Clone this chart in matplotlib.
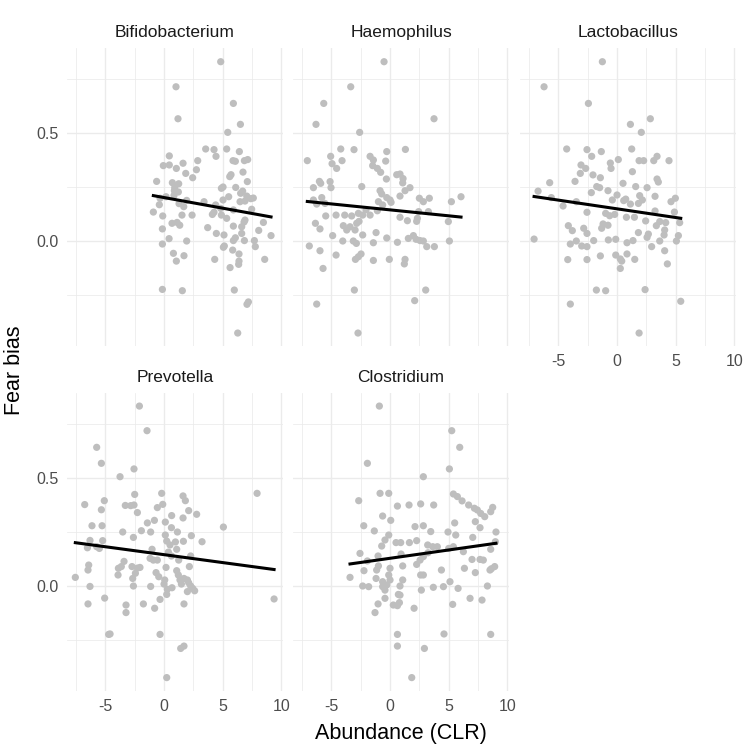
import numpy as np
import matplotlib.pyplot as plt
from matplotlib.ticker import MultipleLocator

plt.rcParams['font.family'] = ['Liberation Sans', 'DejaVu Sans']
plt.rcParams['axes.unicode_minus'] = False

genera = ["Bifidobacterium", "Haemophilus", "Lactobacillus", "Prevotella", "Clostridium"]

#### Bifidobacterium ####
bifido_x = [4.83, 1.02, 5.91, 1.19, 6.51, 5.43, 3.55, 4.26, 5.34, 6.42, 4.43, 0.45, 5.88, 6.08, 6.85, 7.13,
            -0.06, 0.45, 1.05, 1.62, 2.87, 2.76, 1.85, 2.44, 5.60, 5.71, 6.73, -0.63, 0.71, 1.25, 0.91, 0.88,
            1.22, 5.03, 6.11, 6.70, 7.10, 7.05, 7.39, 7.61, 6.90, 6.48, 5.51, 6.53, 4.89, -0.34, 0.17, 0.85,
            1.93, 1.28, 1.68, -0.91, -0.40, -0.11, 1.53, 2.39, 0.68, 1.11, 1.34, -0.14, 0.43, -0.14, 1.93,
            3.72, 4.46, 5.11, 4.12, 4.26, 4.83, 5.91, 7.47, 6.90, 6.62, 5.91, 6.82, 8.07, 9.12, 8.47, 6.08,
            5.91, 6.85, 7.70, 6.62, 7.78, 5.14, 5.06, 5.85, 6.39, 6.39, 6.36, 5.63, 4.32, 8.58, 0.80, 1.05,
            1.70, -0.14, 1.56, 5.99, 7.19, 7.07, 6.28, 4.89, 5.34, 4.40, 3.41, 5.03]
bifido_y = [0.830, 0.714, 0.637, 0.566, 0.540, 0.503, 0.426, 0.423, 0.426, 0.414, 0.392, 0.394, 0.372, 0.369,
            0.372, 0.377, 0.349, 0.352, 0.336, 0.360, 0.372, 0.330, 0.313, 0.293, 0.298, 0.307, 0.319, 0.276,
            0.270, 0.265, 0.247, 0.233, 0.227, 0.250, 0.248, 0.231, 0.275, 0.208, 0.196, 0.199, 0.185, 0.182,
            0.205, 0.221, 0.244, 0.198, 0.205, 0.211, 0.188, 0.173, 0.159, 0.134, 0.168, 0.116, 0.120, 0.120,
            0.082, 0.086, 0.073, 0.056, 0.011, -0.014, 0.000, 0.062, 0.035, 0.028, 0.123, 0.133, 0.151, 0.144,
            0.147, 0.097, 0.066, 0.069, 0.088, 0.049, 0.025, 0.086, 0.015, 0.002, 0.002, 0.002, 0.035, -0.026,
            -0.023, -0.029, -0.042, -0.060, -0.093, -0.108, -0.123, -0.085, -0.085, -0.057, -0.093, -0.068,
            -0.224, -0.230, -0.227, -0.282, -0.293, -0.426, 0.120, 0.105, 0.167, 0.182, 0.190]

#### Haemophilus ####
haemo_x = [-0.51, -3.35, -5.65, -6.31, 3.75, -2.59, -4.20, -3.07, -0.28, 1.31, -5.06, -4.09, -7.05, -4.94,
           -4.55, -1.70, -1.42, -1.48, -1.08, -0.80, -0.37, -0.31, 0.57, 0.85, 1.11, 1.08, 1.70, -6.02, -5.91,
           -5.11, -5.03, -6.53, -2.41, -0.85, -0.71, -0.28, 0.00, 0.09, -0.99, -0.63, 0.85, 1.28, 2.50, 2.84,
           3.35, 5.23, 6.05, -6.53, -5.82, -5.54, -6.25, -4.60, -5.48, -3.86, -3.27, -2.70, -2.33, -2.05,
           -1.70, -1.08, 0.85, 1.48, 2.27, 2.33, 2.44, 3.27, 4.97, -6.36, -5.97, -3.98, -3.69, -3.41, -2.98,
           -2.84, -2.64, -4.89, -4.03, -3.13, -2.87, -2.33, -1.42, -1.19, -0.28, 0.63, 1.56, 1.99, 2.22, 2.56,
           2.84, 3.13, 3.78, 5.06, -6.88, -5.97, -4.60, -2.95, -2.70, -2.47, -1.42, -0.06, 1.28, 1.22, -5.71,
           -3.04, 3.04, -6.25, 2.10, -2.73]
haemo_y = [0.830, 0.714, 0.637, 0.540, 0.566, 0.503, 0.426, 0.423, 0.414, 0.424, 0.392, 0.372, 0.372, 0.358,
           0.336, 0.392, 0.375, 0.349, 0.336, 0.318, 0.370, 0.287, 0.307, 0.310, 0.289, 0.269, 0.247, 0.276,
           0.267, 0.275, 0.247, 0.247, 0.252, 0.233, 0.218, 0.201, 0.190, 0.179, 0.182, 0.167, 0.208, 0.233,
           0.198, 0.182, 0.198, 0.182, 0.205, 0.190, 0.201, 0.174, 0.171, 0.120, 0.116, 0.120, 0.116, 0.128,
           0.120, 0.144, 0.120, 0.140, 0.110, 0.094, 0.091, 0.105, 0.136, 0.136, 0.090, 0.082, 0.056, 0.071,
           0.051, 0.066, 0.051, 0.082, 0.091, 0.025, 0.000, 0.000, -0.011, 0.028, -0.008, 0.039, 0.014, -0.006,
           0.012, 0.025, 0.008, 0.002, 0.000, -0.026, -0.026, 0.000, -0.023, -0.045, -0.065, -0.085, -0.073,
           -0.060, -0.090, -0.085, -0.085, -0.106, -0.127, -0.227, -0.227, -0.292, -0.276, -0.426]

#### Lactobacillus ####
lacto_x = [-1.25, -6.22, -2.44, 2.84, 1.14, 2.07, -4.29, -2.56, 1.25, -1.34, -2.16, 0.11, -0.57, -0.51, 1.88,
           2.27, 3.13, 3.41, 4.43, -3.07, -2.67, -3.13, -2.05, -1.42, 1.31, -3.58, -5.74, 0.51, 1.59, 2.56,
           3.41, 3.52, -1.73, -1.48, -2.19, -0.77, -6.73, -5.60, -4.60, -3.47, 0.00, -0.40, 0.57, 1.14, 0.74,
           1.93, 2.16, 1.82, 3.24, 4.60, 4.97, 4.89, 5.34, -2.56, -0.97, -0.63, -0.20, 0.80, 1.48, 2.44, 3.24,
           3.35, 3.64, 4.15, 4.06, 4.01, 5.23, 5.06, -4.15, -3.81, -2.84, -2.56, -1.31, -1.19, -0.77, 1.82,
           2.56, 2.67, 2.95, 3.64, -7.07, -3.98, -3.47, -3.01, -2.56, -1.99, -0.74, -0.11, 0.85, 1.36, -0.11,
           0.28, 0.40, 0.28, 0.85, 1.51, 4.06, 4.29, -4.20, -2.56, -1.42, -1.76, -0.97, 2.39, -3.98, 5.43, 1.88]
lacto_y = [0.830, 0.714, 0.637, 0.566, 0.540, 0.503, 0.426, 0.423, 0.426, 0.414, 0.392, 0.377, 0.361, 0.336,
           0.372, 0.372, 0.372, 0.392, 0.372, 0.352, 0.336, 0.313, 0.306, 0.293, 0.321, 0.276, 0.270, 0.267,
           0.252, 0.247, 0.287, 0.273, 0.252, 0.247, 0.224, 0.233, 0.231, 0.201, 0.162, 0.182, 0.213, 0.190,
           0.187, 0.171, 0.194, 0.210, 0.190, 0.174, 0.207, 0.182, 0.198, 0.134, 0.085, 0.133, 0.128, 0.117,
           0.123, 0.110, 0.110, 0.093, 0.139, 0.071, 0.090, 0.085, 0.051, 0.028, 0.025, 0.000, 0.071, 0.048,
           0.059, 0.035, 0.059, 0.079, 0.073, 0.039, 0.017, 0.032, -0.026, 0.000, 0.009, -0.014, 0.000, -0.023,
           -0.026, 0.002, 0.005, 0.008, -0.008, 0.002, -0.065, -0.083, -0.093, -0.127, -0.060, -0.085, -0.045,
           -0.106, -0.086, -0.086, -0.069, -0.227, -0.230, -0.225, -0.292, -0.279, -0.426]

#### Prevotella ####
prevo_x = [-2.10, -1.45, -5.74, -5.34, -2.56, -3.75, 7.93, -2.50, -0.20, 1.62, 1.82, -6.76, -5.09, -5.34, -3.30,
           -2.84, -2.56, -2.27, -0.57, -0.11, 2.10, 2.78, 1.62, -6.14, -5.28, -3.52, -1.93, -1.42, -0.82, 0.11,
           0.65, 0.63, 1.14, 5.06, -2.61, -1.14, 0.11, 0.23, 0.51, 0.97, 1.65, 1.08, 2.33, 3.24, -6.31, -5.23,
           -6.53, -5.74, -5.51, -1.02, -1.19, -0.91, -0.57, 0.37, 0.63, 1.25, 2.27, 2.16, -3.41, -3.64, -3.89,
           -3.92, -2.73, -2.27, -2.05, -2.44, -2.67, -2.61, -6.42, -6.48, -7.56, -6.31, -1.14, -0.68, -0.45,
           0.17, 0.06, 0.00, 0.28, 0.68, 1.08, 1.22, 1.36, 1.48, 1.70, 1.99, 2.10, 2.27, 2.44, 2.61, 1.99, -5.06,
           -6.48, -3.24, -3.24, -1.76, -0.80, -0.34, 0.23, 1.70, 9.38, -4.72, -4.60, -0.34, 1.42, 1.70, 0.23]
prevo_y = [0.833, 0.719, 0.642, 0.568, 0.542, 0.506, 0.429, 0.424, 0.429, 0.417, 0.395, 0.377, 0.395, 0.353,
           0.373, 0.372, 0.375, 0.340, 0.363, 0.378, 0.349, 0.332, 0.315, 0.279, 0.279, 0.250, 0.256, 0.292,
           0.304, 0.296, 0.326, 0.270, 0.250, 0.273, 0.225, 0.250, 0.236, 0.208, 0.190, 0.204, 0.207, 0.170,
           0.233, 0.205, 0.211, 0.210, 0.177, 0.182, 0.174, 0.170, 0.128, 0.120, 0.120, 0.157, 0.139, 0.120,
           0.139, 0.090, 0.114, 0.090, 0.082, 0.051, 0.090, 0.083, 0.086, 0.059, 0.035, 0.000, 0.097, 0.074,
           0.040, -0.002, -0.002, 0.062, 0.043, 0.086, 0.028, 0.009, -0.015, -0.008, 0.071, 0.051, 0.028, 0.009,
           0.035, 0.028, 0.015, 0.000, -0.011, -0.022, -0.026, -0.056, -0.083, -0.088, -0.123, -0.083, -0.103,
           -0.062, -0.039, -0.083, -0.060, -0.224, -0.222, -0.224, -0.289, -0.278, -0.424]

#### Clostridium ####
clost_x = [-0.91, 5.26, 5.94, -1.93, 5.06, 2.84, -0.85, -0.11, -2.67, 0.63, 1.62, 2.61, 3.72, 5.40, 5.74, 6.14,
           6.70, 7.19, 7.44, 7.73, 8.07, 8.75, 8.58, -0.63, 0.06, -2.24, 2.13, 2.84, -1.34, -0.11, -0.43, -0.71,
           0.51, 0.91, 1.65, 2.27, 3.47, 3.21, 3.64, 4.94, 5.51, 5.60, 5.40, 5.00, 7.27, 7.67, 7.05, 9.03, 8.98,
           8.58, -2.56, -1.02, -1.93, -0.99, -1.14, 0.00, 0.94, 1.08, 2.27, 2.56, 2.84, 3.24, 4.03, 4.38, 6.25,
           6.34, 6.99, 7.27, 7.67, 7.95, 8.52, 8.92, 8.64, -3.41, -2.22, -2.33, -1.82, -1.19, -0.63, -0.63,
           -0.43, -0.28, 0.00, -0.11, 0.85, 1.08, 2.61, 2.84, 2.67, 3.69, 4.55, 5.11, 5.80, 0.71, 0.85, 0.80,
           0.28, 0.63, -0.43, -1.02, -1.28, 2.05, 5.34, 6.82, 7.84, 8.30, 0.63, 0.63, 2.93, 4.60, 8.58, 1.85]
clost_y = [0.833, 0.719, 0.642, 0.568, 0.542, 0.506, 0.429, 0.429, 0.395, 0.370, 0.375, 0.380, 0.375, 0.426,
           0.414, 0.394, 0.375, 0.360, 0.352, 0.336, 0.321, 0.364, 0.344, 0.324, 0.304, 0.279, 0.275, 0.279,
           0.255, 0.236, 0.213, 0.185, 0.201, 0.201, 0.201, 0.210, 0.252, 0.190, 0.182, 0.250, 0.292, 0.236,
           0.182, 0.174, 0.298, 0.270, 0.225, 0.250, 0.205, 0.170, 0.151, 0.139, 0.116, 0.093, 0.074, 0.082,
           0.148, 0.093, 0.100, 0.120, 0.136, 0.154, 0.182, 0.074, 0.159, 0.082, 0.123, 0.062, 0.123, 0.120,
           0.074, 0.090, 0.080, 0.040, 0.071, 0.000, -0.003, 0.035, 0.020, -0.003, -0.019, 0.005, 0.028, 0.051,
           0.000, 0.028, 0.051, 0.051, -0.019, -0.006, -0.003, 0.020, -0.011, -0.039, -0.042, -0.077, -0.088,
           -0.091, -0.057, -0.083, -0.123, -0.103, -0.085, -0.057, -0.065, 0.000, -0.224, -0.278, -0.289,
           -0.222, -0.224, -0.424]

all_x = [bifido_x, haemo_x, lacto_x, prevo_x, clost_x]
all_y = [bifido_y, haemo_y, lacto_y, prevo_y, clost_y]

W, H = 746, 748
fig = plt.figure(figsize=(W / 100, H / 100), dpi=100)

# panel positions in pixels (left, top)
lefts = [67, 293, 520]
tops = [48, 393]
pw, ph = 216, 298

grid_col = "#EBEBEB"
text_grey = "#4D4D4D"

for i, name in enumerate(genera):
    row, col = divmod(i, 3)
    ax = fig.add_axes([lefts[col] / W, (H - tops[row] - ph) / H, pw / W, ph / H])
    ax.set_xlim(-8.27, 10.14)
    ax.set_ylim(-0.486, 0.8935)
    ax.xaxis.set_major_locator(MultipleLocator(5))
    ax.xaxis.set_minor_locator(MultipleLocator(2.5))
    ax.yaxis.set_major_locator(MultipleLocator(0.5))
    ax.yaxis.set_minor_locator(MultipleLocator(0.25))
    ax.grid(which="major", color=grid_col, lw=1.0)
    ax.grid(which="minor", color=grid_col, lw=0.55)
    ax.set_axisbelow(True)
    for s in ax.spines.values():
        s.set_visible(False)
    ax.tick_params(which="both", length=0, labelsize=11.5, labelcolor=text_grey, pad=6)
    ax.yaxis.set_major_formatter(plt.FuncFormatter(lambda v, p: "%.1f" % v))

    x = np.array(all_x[i])
    y = np.array(all_y[i])
    ax.scatter(x, y, s=27, color="#BEBEBE", edgecolors="none", zorder=2)
    # lm fit like geom_smooth(method = "lm", se = FALSE)
    slope, intercept = np.polyfit(x, y, 1)
    xs = np.array([x.min(), x.max()])
    ax.plot(xs, intercept + slope * xs, color="black", lw=2.2, zorder=3)

    ax.set_title(name, fontsize=12.5, color="#1A1A1A", pad=8)

    if col != 0:
        ax.tick_params(labelleft=False)
    # x labels only where no panel sits below
    if row == 0 and i + 3 < len(genera):
        ax.tick_params(labelbottom=False)

fig.text(401 / W, 1 - 733 / H, "Abundance (CLR)", ha="center", va="center", fontsize=15.5)
fig.text(15 / W, 1 - 370 / H, "Fear bias", ha="center", va="center", rotation=90, fontsize=15.5)

plt.savefig("out.png", dpi=100)
